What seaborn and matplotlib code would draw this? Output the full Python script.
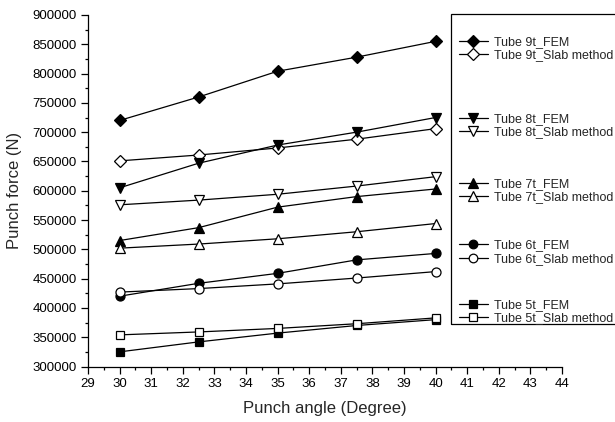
import numpy as np
import pandas as pd
import matplotlib
matplotlib.use('Agg')
import matplotlib.pyplot as plt
import seaborn as sns
from matplotlib.lines import Line2D
from matplotlib.patches import Rectangle
from matplotlib.ticker import MultipleLocator

# Punch force vs punch angle, FEM vs slab method for five tubes
angles = [30, 32.5, 35, 37.5, 40]

tube9_fem = [720000, 760000, 804000, 828000, 855000]
tube9_slab = [651000, 661000, 673000, 688000, 706000]
tube8_fem = [605000, 647000, 678000, 700000, 725000]
tube8_slab = [576000, 584000, 594000, 608000, 624000]
tube7_fem = [515000, 537000, 572000, 590000, 603000]
tube7_slab = [502000, 509000, 518000, 530000, 544000]
tube6_fem = [420000, 442000, 459000, 482000, 493000]
tube6_slab = [427000, 433000, 441000, 451000, 462000]
tube5_fem = [325000, 342000, 357000, 370000, 380000]
tube5_slab = [354000, 359000, 365000, 373000, 383000]

labels = ['Tube 9t_FEM', 'Tube 9t_Slab method',
          'Tube 8t_FEM', 'Tube 8t_Slab method',
          'Tube 7t_FEM', 'Tube 7t_Slab method',
          'Tube 6t_FEM', 'Tube 6t_Slab method',
          'Tube 5t_FEM', 'Tube 5t_Slab method']
series = [tube9_fem, tube9_slab, tube8_fem, tube8_slab, tube7_fem,
          tube7_slab, tube6_fem, tube6_slab, tube5_fem, tube5_slab]
markers = ['D', 'D', 'v', 'v', '^', '^', 'o', 'o', 's', 's']
sizes = [6.5, 6.5, 7, 7, 7, 7, 6.5, 6.5, 5.5, 5.5]

sns.set_style('ticks')
plt.rcParams['font.family'] = ['Liberation Sans', 'DejaVu Sans']

W, H = 615, 422
fig = plt.figure(figsize=(6.15, 4.22), dpi=100)
ax = fig.add_axes([0.1431, 0.1315, 0.7707, 0.833])

handles = []
for i, (vals, lab) in enumerate(zip(series, labels)):
    face = 'black' if i % 2 == 0 else 'white'
    sns.lineplot(x=angles, y=vals, ax=ax, color='black', linewidth=0.9,
                 marker=markers[i], markersize=sizes[i],
                 markerfacecolor=face, markeredgecolor='black',
                 markeredgewidth=0.9, legend=False)
    handles.append(Line2D([], [], color='black', linewidth=0.9,
                          marker=markers[i], markersize=sizes[i] - 0.3,
                          markerfacecolor=face, markeredgecolor='black',
                          markeredgewidth=0.9, label=lab))

ax.set_xlim(29, 44)
ax.set_ylim(300000, 900000)
ax.xaxis.set_major_locator(MultipleLocator(1))
ax.xaxis.set_minor_locator(MultipleLocator(0.5))
ax.yaxis.set_major_locator(MultipleLocator(50000))
ax.yaxis.set_minor_locator(MultipleLocator(25000))
ax.tick_params(which='major', direction='out', length=5, width=0.9, pad=3,
               labelsize=9.5, color='black', labelcolor='black')
ax.tick_params(which='minor', direction='out', length=2.5, width=0.9,
               color='black')
for side in ['left', 'bottom']:
    ax.spines[side].set_linewidth(0.9)
    ax.spines[side].set_color('black')
sns.despine(ax=ax)

ax.set_xlabel('Punch angle (Degree)', fontsize=12, labelpad=8)
ax.set_ylabel('Punch force (N)', fontsize=12, labelpad=8)

# legend box runs off the right edge like in the original
box_top, box_bottom, box_left = 13.5, 323.5, 451
fig.patches.append(Rectangle((box_left / W, 1 - box_bottom / H),
                             0.4, (box_bottom - box_top) / H,
                             transform=fig.transFigure, fill=False,
                             edgecolor='black', linewidth=0.9))

# one small legend per tube pair, at the pixel rows of the original
pair_tops = [36, 113, 178, 239.5, 299]
for g, top in enumerate(pair_tops):
    leg = fig.legend(handles=handles[2 * g:2 * g + 2], loc='upper left',
                     bbox_to_anchor=(459 / W, 1 - top / H), fontsize=9,
                     frameon=False, handlelength=2.3, handletextpad=0.5,
                     labelspacing=0.12, borderpad=0, borderaxespad=0)

fig.savefig('out.png', dpi=100)
